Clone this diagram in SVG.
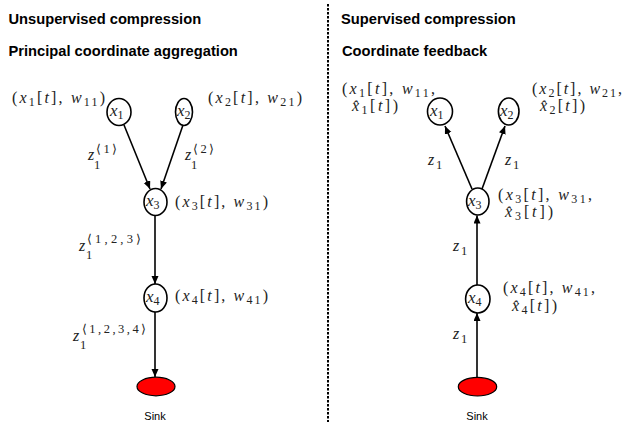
<svg xmlns="http://www.w3.org/2000/svg" width="623" height="422" viewBox="0 0 623 422">
<defs>
<marker id="ah" markerUnits="userSpaceOnUse" markerWidth="9" markerHeight="8" refX="8" refY="3.5" orient="auto"><path d="M0,0 L8,3.5 L0,7 Z" fill="#000"/></marker>
<style>
.t{font-family:"Liberation Sans",Arial,sans-serif;font-weight:bold;font-size:14.7px;fill:#000}
.m{font-family:"Liberation Serif","DejaVu Serif",serif;font-size:16px;fill:#222}
.nl{font-family:"Liberation Serif","DejaVu Serif",serif;font-size:17px;fill:#222}
.i{font-style:italic}
.s{font-size:12px}
.e{font-family:"Liberation Serif","DejaVu Serif",serif;font-size:16px;fill:#222}
.es{font-size:12.5px}
.n{fill:#fff;stroke:#000;stroke-width:1.6}
.sink{fill:#f00;stroke:#000;stroke-width:1.2}
.c{stroke:#000;stroke-width:1.6;fill:none;marker-end:url(#ah)}
.sl{font-family:"Liberation Sans",Arial,sans-serif;font-size:11px;fill:#000;text-anchor:middle}
</style>
</defs>
<rect width="623" height="422" fill="#fff"/>
<g id="titles">
<text class="t" x="8.5" y="24">Unsupervised compression</text>
<text class="t" x="8.5" y="56">Principal coordinate aggregation</text>
<text class="t" x="341" y="24">Supervised compression</text>
<text class="t" x="342" y="56">Coordinate feedback</text>
</g>
<line id="divider" x1="328" y1="4" x2="328" y2="422" stroke="#000" stroke-width="2" stroke-dasharray="2.5 1.5"/>
<g id="connectors">
<path class="c" d="M124,125 L150,189"/>
<path class="c" d="M183,125 L161,189"/>
<path class="c" d="M155,216 L155,284"/>
<path class="c" d="M155,312 L155,377"/>
<path class="c" d="M477,377 L477,313"/>
<path class="c" d="M477,285 L477,215.5"/>
<path class="c" d="M472,189 L445,126"/>
<path class="c" d="M482,189 L505,126"/>
</g>
<g id="edge-labels">
<text class="e"><tspan class="i" x="88" y="160">z</tspan><tspan class="es" x="96" y="153" textLength="21">⟨1⟩</tspan><tspan class="es" x="94" y="169">1</tspan></text>
<text class="e"><tspan class="i" x="185" y="160">z</tspan><tspan class="es" x="193" y="153" textLength="21">⟨2⟩</tspan><tspan class="es" x="191" y="169">1</tspan></text>
<text class="e"><tspan class="i" x="79" y="251">z</tspan><tspan class="es" x="87" y="243" textLength="54">⟨1,2,3⟩</tspan><tspan class="es" x="86" y="259">1</tspan></text>
<text class="e"><tspan class="i" x="73" y="341">z</tspan><tspan class="es" x="82" y="333" textLength="64">⟨1,2,3,4⟩</tspan><tspan class="es" x="80" y="349">1</tspan></text>
<text class="e"><tspan class="i" x="428" y="165">z</tspan><tspan class="es" x="436" y="169">1</tspan></text>
<text class="e"><tspan class="i" x="505" y="165">z</tspan><tspan class="es" x="513" y="169">1</tspan></text>
<text class="e"><tspan class="i" x="453" y="251">z</tspan><tspan class="es" x="461" y="255">1</tspan></text>
<text class="e"><tspan class="i" x="453" y="339">z</tspan><tspan class="es" x="461" y="343">1</tspan></text>
</g>
<g id="L-x1">
<ellipse class="n" cx="119" cy="112" rx="12" ry="13.5"/>
<text class="nl" x="110" y="116"><tspan class="i">x</tspan><tspan class="s" dy="3">1</tspan></text>
<text class="m" x="12" y="103" textLength="93" lengthAdjust="spacing">(<tspan class="i">x</tspan><tspan class="s" dy="3">1</tspan><tspan dy="-3">[</tspan><tspan class="i">t</tspan>], <tspan class="i">w</tspan><tspan class="s" dy="3">11</tspan><tspan dy="-3">)</tspan></text>
</g>
<g id="L-x2">
<ellipse class="n" cx="184" cy="112" rx="8.5" ry="13.5"/>
<text class="nl" x="177" y="116"><tspan class="i">x</tspan><tspan class="s" dy="3">2</tspan></text>
<text class="m" x="208" y="103" textLength="94" lengthAdjust="spacing">(<tspan class="i">x</tspan><tspan class="s" dy="3">2</tspan><tspan dy="-3">[</tspan><tspan class="i">t</tspan>], <tspan class="i">w</tspan><tspan class="s" dy="3">21</tspan><tspan dy="-3">)</tspan></text>
</g>
<g id="L-x3">
<ellipse class="n" cx="155.5" cy="202" rx="11.5" ry="13.5"/>
<text class="nl" x="146" y="206"><tspan class="i">x</tspan><tspan class="s" dy="3">3</tspan></text>
<text class="m" x="175" y="207" textLength="93" lengthAdjust="spacing">(<tspan class="i">x</tspan><tspan class="s" dy="3">3</tspan><tspan dy="-3">[</tspan><tspan class="i">t</tspan>], <tspan class="i">w</tspan><tspan class="s" dy="3">31</tspan><tspan dy="-3">)</tspan></text>
</g>
<g id="L-x4">
<ellipse class="n" cx="155.5" cy="298" rx="11.5" ry="14"/>
<text class="nl" x="146" y="302"><tspan class="i">x</tspan><tspan class="s" dy="3">4</tspan></text>
<text class="m" x="175" y="301" textLength="93" lengthAdjust="spacing">(<tspan class="i">x</tspan><tspan class="s" dy="3">4</tspan><tspan dy="-3">[</tspan><tspan class="i">t</tspan>], <tspan class="i">w</tspan><tspan class="s" dy="3">41</tspan><tspan dy="-3">)</tspan></text>
</g>
<g id="L-sink">
<ellipse class="sink" cx="156" cy="386.5" rx="19" ry="9.3"/>
<text class="sl" x="155" y="420">Sink</text>
</g>
<g id="R-x1">
<ellipse class="n" cx="440" cy="111.5" rx="12.5" ry="13.5"/>
<text class="nl" x="430" y="116"><tspan class="i">x</tspan><tspan class="s" dy="3">1</tspan></text>
<text class="m" x="342" y="94" textLength="93" lengthAdjust="spacing">(<tspan class="i">x</tspan><tspan class="s" dy="3">1</tspan><tspan dy="-3">[</tspan><tspan class="i">t</tspan>], <tspan class="i">w</tspan><tspan class="s" dy="3">11</tspan><tspan dy="-3">,</tspan></text>
<text class="m" x="352" y="111" textLength="46" lengthAdjust="spacing"><tspan class="i">x̂</tspan><tspan class="s" dy="3">1</tspan><tspan dy="-3">[</tspan><tspan class="i">t</tspan>])</text>
</g>
<g id="R-x2">
<ellipse class="n" cx="508.7" cy="111.5" rx="10.3" ry="13.5"/>
<text class="nl" x="500" y="116"><tspan class="i">x</tspan><tspan class="s" dy="3">2</tspan></text>
<text class="m" x="532" y="94" textLength="90" lengthAdjust="spacing">(<tspan class="i">x</tspan><tspan class="s" dy="3">2</tspan><tspan dy="-3">[</tspan><tspan class="i">t</tspan>], <tspan class="i">w</tspan><tspan class="s" dy="3">21</tspan><tspan dy="-3">,</tspan></text>
<text class="m" x="540" y="111" textLength="45" lengthAdjust="spacing"><tspan class="i">x̂</tspan><tspan class="s" dy="3">2</tspan><tspan dy="-3">[</tspan><tspan class="i">t</tspan>])</text>
</g>
<g id="R-x3">
<ellipse class="n" cx="477.8" cy="201.5" rx="11.2" ry="13.5"/>
<text class="nl" x="468" y="206"><tspan class="i">x</tspan><tspan class="s" dy="3">3</tspan></text>
<text class="m" x="498" y="200" textLength="94" lengthAdjust="spacing">(<tspan class="i">x</tspan><tspan class="s" dy="3">3</tspan><tspan dy="-3">[</tspan><tspan class="i">t</tspan>], <tspan class="i">w</tspan><tspan class="s" dy="3">31</tspan><tspan dy="-3">,</tspan></text>
<text class="m" x="505" y="217" textLength="48" lengthAdjust="spacing"><tspan class="i">x̂</tspan><tspan class="s" dy="3">3</tspan><tspan dy="-3">[</tspan><tspan class="i">t</tspan>])</text>
</g>
<g id="R-x4">
<ellipse class="n" cx="477.8" cy="299" rx="12.2" ry="14"/>
<text class="nl" x="468" y="303"><tspan class="i">x</tspan><tspan class="s" dy="3">4</tspan></text>
<text class="m" x="503" y="293" textLength="92" lengthAdjust="spacing">(<tspan class="i">x</tspan><tspan class="s" dy="3">4</tspan><tspan dy="-3">[</tspan><tspan class="i">t</tspan>], <tspan class="i">w</tspan><tspan class="s" dy="3">41</tspan><tspan dy="-3">,</tspan></text>
<text class="m" x="512" y="311" textLength="45" lengthAdjust="spacing"><tspan class="i">x̂</tspan><tspan class="s" dy="3">4</tspan><tspan dy="-3">[</tspan><tspan class="i">t</tspan>])</text>
</g>
<g id="R-sink">
<ellipse class="sink" cx="477.5" cy="386.7" rx="19.2" ry="9.3"/>
<text class="sl" x="477" y="420">Sink</text>
</g>
</svg>
